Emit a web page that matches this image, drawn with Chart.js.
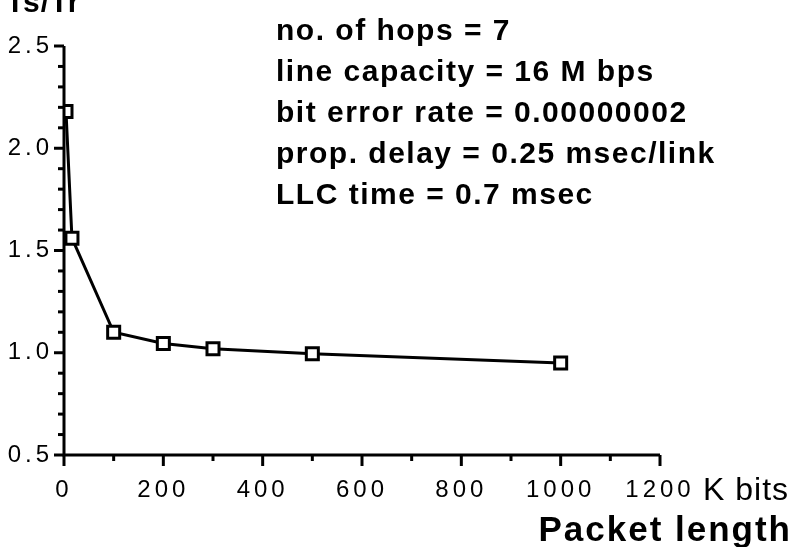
<!DOCTYPE html>
<html>
<head>
<meta charset="utf-8">
<script src="https://cdn.jsdelivr.net/npm/chart.js@4/dist/chart.umd.min.js"></script>
<style>
  html, body { margin: 0; padding: 0; background: #fff; }
  #wrap { width: 795px; height: 547px; position: relative; }
</style>
</head>
<body>
<div id="wrap"><canvas id="c" width="795" height="547"></canvas></div>
<script>
// 数据：分组长度（K bits）与 Ts/Tr
const packetLength = [4, 16, 100, 200, 300, 500, 1000];
const ratio = [2.18, 1.56, 1.10, 1.045, 1.02, 0.995, 0.95];
const xMajorTicks = [0, 200, 400, 600, 800, 1000, 1200];
const yMajorTicks = [0.5, 1.0, 1.5, 2.0, 2.5];
const noteLines = [
  'no. of hops = 7',
  'line capacity = 16 M bps',
  'bit error rate = 0.00000002',
  'prop. delay = 0.25 msec/link',
  'LLC time = 0.7 msec',
];

const FONT = '"Liberation Sans", Arial, Helvetica, sans-serif';

// 坐标轴、刻度和说明文字
const axisPlugin = {
  id: 'axisPlugin',
  beforeDraw(chart) {
    chart.ctx.letterSpacing = '4px';
  },
  afterDraw(chart) {
    const ctx = chart.ctx;
    const { left, right, top, bottom } = chart.chartArea;
    const xs = chart.scales.x, ys = chart.scales.y;
    ctx.save();
    ctx.strokeStyle = '#000';
    ctx.lineWidth = 3;
    ctx.lineCap = 'butt';
    ctx.beginPath();
    ctx.moveTo(left, top);
    ctx.lineTo(left, bottom);
    ctx.lineTo(right, bottom);
    ctx.stroke();

    // y 刻度：每 0.1 一个，0.5 的倍数为主刻度
    for (let i = 0; i <= 20; i++) {
      const v = 0.5 + i * 0.1;
      const y = ys.getPixelForValue(v);
      const len = i % 5 === 0 ? 10 : 6;
      ctx.beginPath();
      ctx.moveTo(left, y);
      ctx.lineTo(left - len, y);
      ctx.stroke();
    }
    // x 刻度：每 100 一个，200 的倍数为主刻度
    for (let v = 0; v <= 1200; v += 100) {
      const x = xs.getPixelForValue(v);
      const len = v % 200 === 0 ? 11 : 6;
      ctx.beginPath();
      ctx.moveTo(x, bottom);
      ctx.lineTo(x, bottom + len);
      ctx.stroke();
    }

    ctx.fillStyle = '#000';
    ctx.textBaseline = 'alphabetic';
    ctx.textAlign = 'left';
    ctx.letterSpacing = '1.5px';
    ctx.font = 'bold 30px ' + FONT;
    noteLines.forEach((t, i) => ctx.fillText(t, 276, 40 + i * 41));

    ctx.letterSpacing = '1px';
    ctx.font = '32px ' + FONT;
    ctx.fillText('K bits', 703, 500);

    ctx.textAlign = 'right';
    ctx.letterSpacing = '2px';
    ctx.font = 'bold 35px ' + FONT;
    ctx.fillText('Packet length', 792, 541);

    ctx.textAlign = 'left';
    ctx.letterSpacing = '1px';
    ctx.font = 'bold 30px ' + FONT;
    ctx.fillText('Ts/Tr', 6, 12);
    ctx.restore();
  }
};

new Chart(document.getElementById('c'), {
  type: 'line',
  data: {
    datasets: [{
      data: packetLength.map((x, i) => ({ x, y: ratio[i] })),
      borderColor: '#000',
      borderWidth: 3,
      tension: 0,
      pointStyle: 'rect',
      pointRadius: 8.5,
      pointBorderWidth: 3,
      pointBackgroundColor: '#fff',
      pointBorderColor: '#000',
      fill: false,
    }],
  },
  options: {
    responsive: false,
    animation: false,
    events: [],
    layout: { padding: { top: 46, right: 135, left: 0, bottom: 0 } },
    plugins: { legend: { display: false }, tooltip: { enabled: false } },
    scales: {
      x: {
        type: 'linear',
        min: 0, max: 1200,
        border: { display: false },
        grid: { display: false },
        afterBuildTicks: s => { s.ticks = xMajorTicks.map(v => ({ value: v })); },
        afterFit: s => { s.height = 92; },
        ticks: {
          color: '#000',
          padding: 13,
          maxRotation: 0,
          autoSkip: false,
          font: { family: FONT, size: 24 },
          callback: v => String(v),
        },
      },
      y: {
        min: 0.5, max: 2.5,
        border: { display: false },
        grid: { display: false },
        afterBuildTicks: s => { s.ticks = yMajorTicks.map(v => ({ value: v })); },
        afterFit: s => { s.width = 64; },
        ticks: {
          color: '#000',
          padding: 3,
          autoSkip: false,
          font: { family: FONT, size: 24 },
          callback: v => v.toFixed(1),
        },
      },
    },
  },
  plugins: [axisPlugin],
});
</script>
</body>
</html>
